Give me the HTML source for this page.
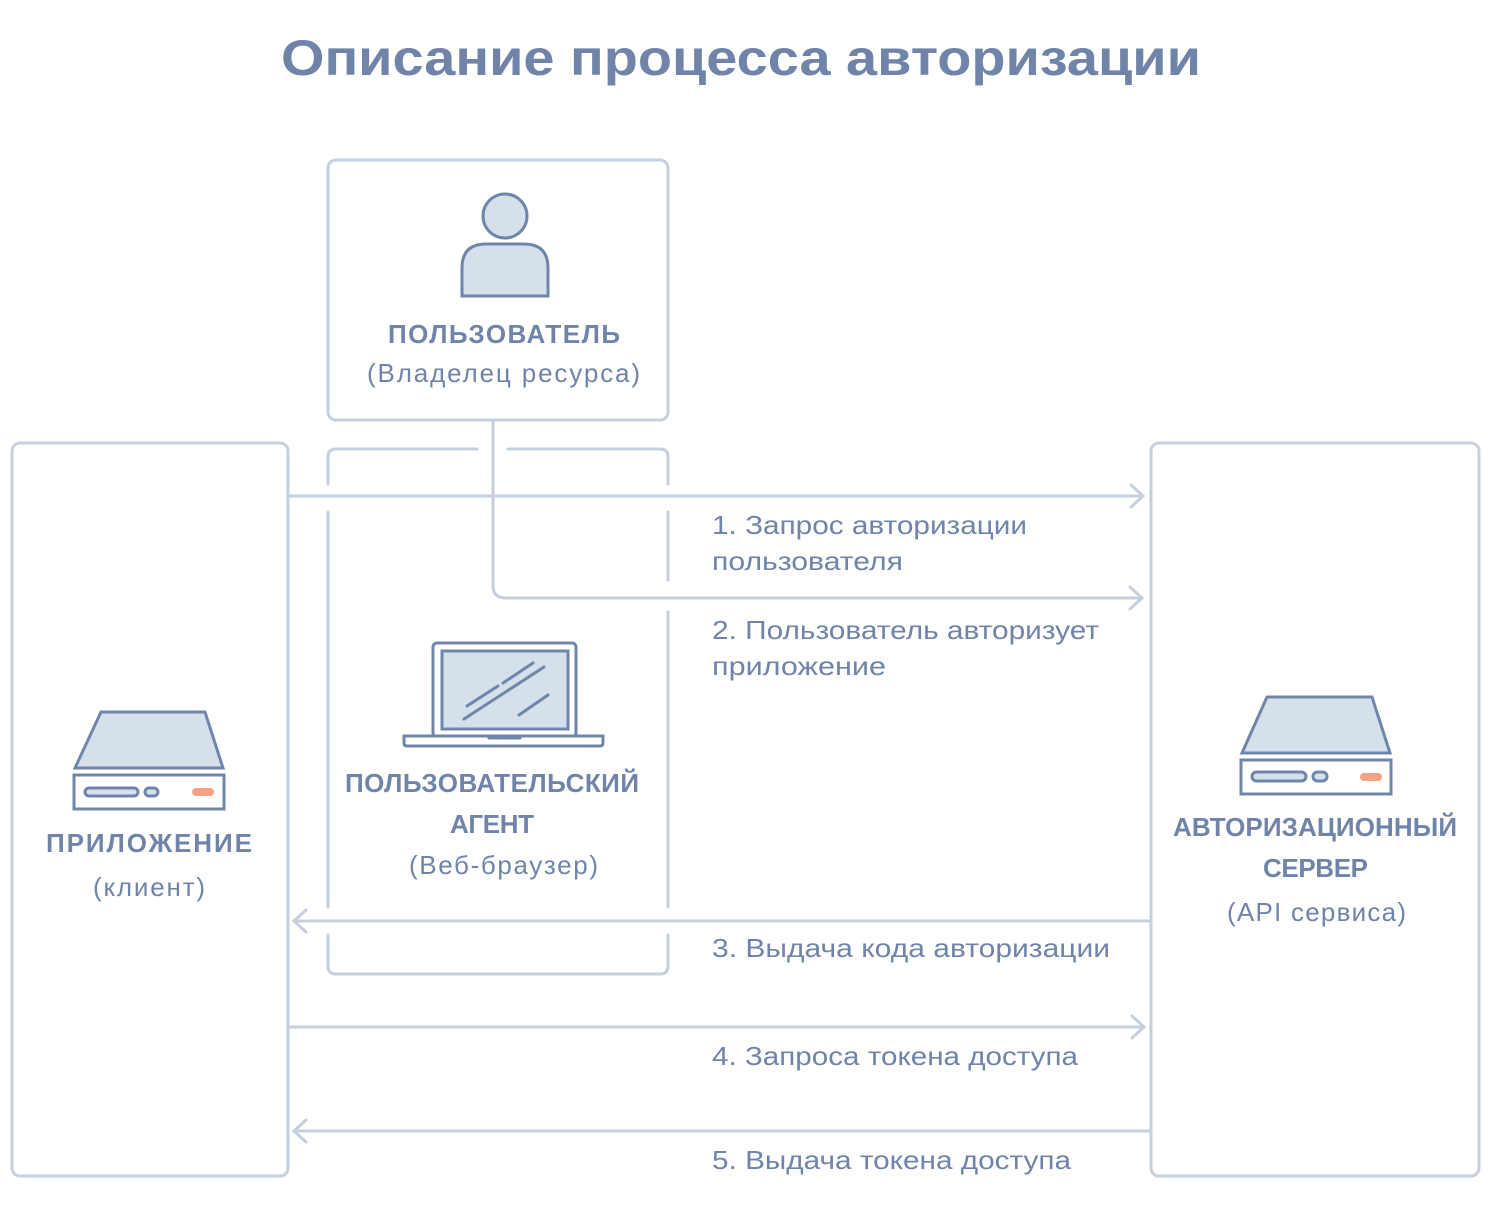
<!DOCTYPE html>
<html><head><meta charset="utf-8"><style>
html,body{margin:0;padding:0;background:#fff;}
svg{display:block;}
text{font-family:"Liberation Sans",sans-serif;fill:#6f84a8;}
</style></head><body>
<svg width="1491" height="1218" viewBox="0 0 1491 1218" xmlns="http://www.w3.org/2000/svg">
<text x="741" y="75" text-anchor="middle" font-size="50" font-weight="bold" textLength="920" lengthAdjust="spacingAndGlyphs">Описание процесса авторизации</text>

<g fill="none" stroke="#c6d0dd" stroke-width="3" stroke-linecap="round">
  <rect x="328" y="160" width="340" height="260" rx="8"/>
  <rect x="12" y="443" width="276" height="733" rx="8"/>
  <rect x="1151" y="443" width="328" height="733" rx="8"/>
  <path d="M328 484 V457 Q328 449 336 449 H477"/>
  <path d="M508 449 H660 Q668 449 668 457 V484"/>
  <path d="M328 512 V907"/>
  <path d="M668 512 V580"/>
  <path d="M668 612 V907"/>
  <path d="M328 935 V966 Q328 974 336 974 H660 Q668 974 668 966 V935"/>
  <path d="M288 496 H1143"/>
  <path d="M1131 485 L1143 496 L1131 507"/>
  <path d="M493 421 V586 Q493 598 506 598 H1142"/>
  <path d="M1130 587 L1142 598 L1130 609"/>
  <path d="M1151 921 H294"/>
  <path d="M306 910 L294 921 L306 932"/>
  <path d="M288 1027 H1144"/>
  <path d="M1132 1016 L1144 1027 L1132 1038"/>
  <path d="M1151 1131 H294"/>
  <path d="M306 1120 L294 1131 L306 1142"/>
</g>

<g stroke="#6f86ab" stroke-width="3" fill="#d5e0ea">
  <circle cx="505" cy="216" r="22"/>
  <path d="M462 296 V268 Q462 244 486 244 H524 Q548 244 548 268 V296 Z"/>
</g>

<g stroke="#6f86ab" stroke-width="3" stroke-linecap="round">
  <rect x="433" y="643" width="143" height="94" rx="4" fill="#fff"/>
  <rect x="442" y="651" width="126" height="78" fill="#d5e0ea"/>
  <path d="M404 736 H603 V743 Q603 746 600 746 H407 Q404 746 404 743 Z" fill="#fff"/>
  <path d="M489 738 H520"/>
  <path d="M467 706 L498 686 M503 683 L533 663 M464 719 L544 667 M519 715 L548 695" fill="none"/>
</g>

<g stroke="#6f86ab" stroke-width="3">
  <path d="M75 768 L101 712 H205 L223 768 Z" fill="#d5e0ea"/>
  <rect x="74" y="775" width="150" height="34" fill="#fff"/>
  <rect x="85" y="788" width="53" height="8" rx="4" fill="#d5e0ea"/>
  <rect x="145" y="788" width="13" height="8" rx="4" fill="#d5e0ea"/>
</g>
<rect x="192" y="788" width="22" height="8" rx="4" fill="#f5a183"/>

<g stroke="#6f86ab" stroke-width="3">
  <path d="M1242 753 L1267 697 H1372 L1390 753 Z" fill="#d5e0ea"/>
  <rect x="1241" y="760" width="150" height="34" fill="#fff"/>
  <rect x="1252" y="772" width="54" height="9" rx="4.5" fill="#d5e0ea"/>
  <rect x="1313" y="772" width="14" height="9" rx="4.5" fill="#d5e0ea"/>
</g>
<rect x="1360" y="773" width="22" height="8" rx="4" fill="#f5a183"/>

<g font-size="26" lengthAdjust="spacingAndGlyphs">
  <text x="388" y="343" font-weight="bold" textLength="232">ПОЛЬЗОВАТЕЛЬ</text>
  <text x="367" y="382" textLength="273">(Владелец ресурса)</text>
  <text x="345" y="792" font-weight="bold" textLength="294">ПОЛЬЗОВАТЕЛЬСКИЙ</text>
  <text x="450" y="833" font-weight="bold" textLength="84">АГЕНТ</text>
  <text x="409" y="874" textLength="189">(Веб-браузер)</text>
  <text x="46" y="852" font-weight="bold" textLength="206">ПРИЛОЖЕНИЕ</text>
  <text x="93" y="896" textLength="112">(клиент)</text>
  <text x="1173" y="836" font-weight="bold" textLength="284">АВТОРИЗАЦИОННЫЙ</text>
  <text x="1263" y="877" font-weight="bold" textLength="105">СЕРВЕР</text>
  <text x="1227" y="921" textLength="179">(API сервиса)</text>
</g>

<g font-size="26">
  <text x="712" y="534" textLength="315" lengthAdjust="spacingAndGlyphs">1. Запрос авторизации</text>
  <text x="712" y="570" textLength="191" lengthAdjust="spacingAndGlyphs">пользователя</text>
  <text x="712" y="639" textLength="387" lengthAdjust="spacingAndGlyphs">2. Пользователь авторизует</text>
  <text x="712" y="675" textLength="174" lengthAdjust="spacingAndGlyphs">приложение</text>
  <text x="712" y="957" textLength="398" lengthAdjust="spacingAndGlyphs">3. Выдача кода авторизации</text>
  <text x="712" y="1065" textLength="366" lengthAdjust="spacingAndGlyphs">4. Запроса токена доступа</text>
  <text x="712" y="1169" textLength="359" lengthAdjust="spacingAndGlyphs">5. Выдача токена доступа</text>
</g>
</svg>
</body></html>
